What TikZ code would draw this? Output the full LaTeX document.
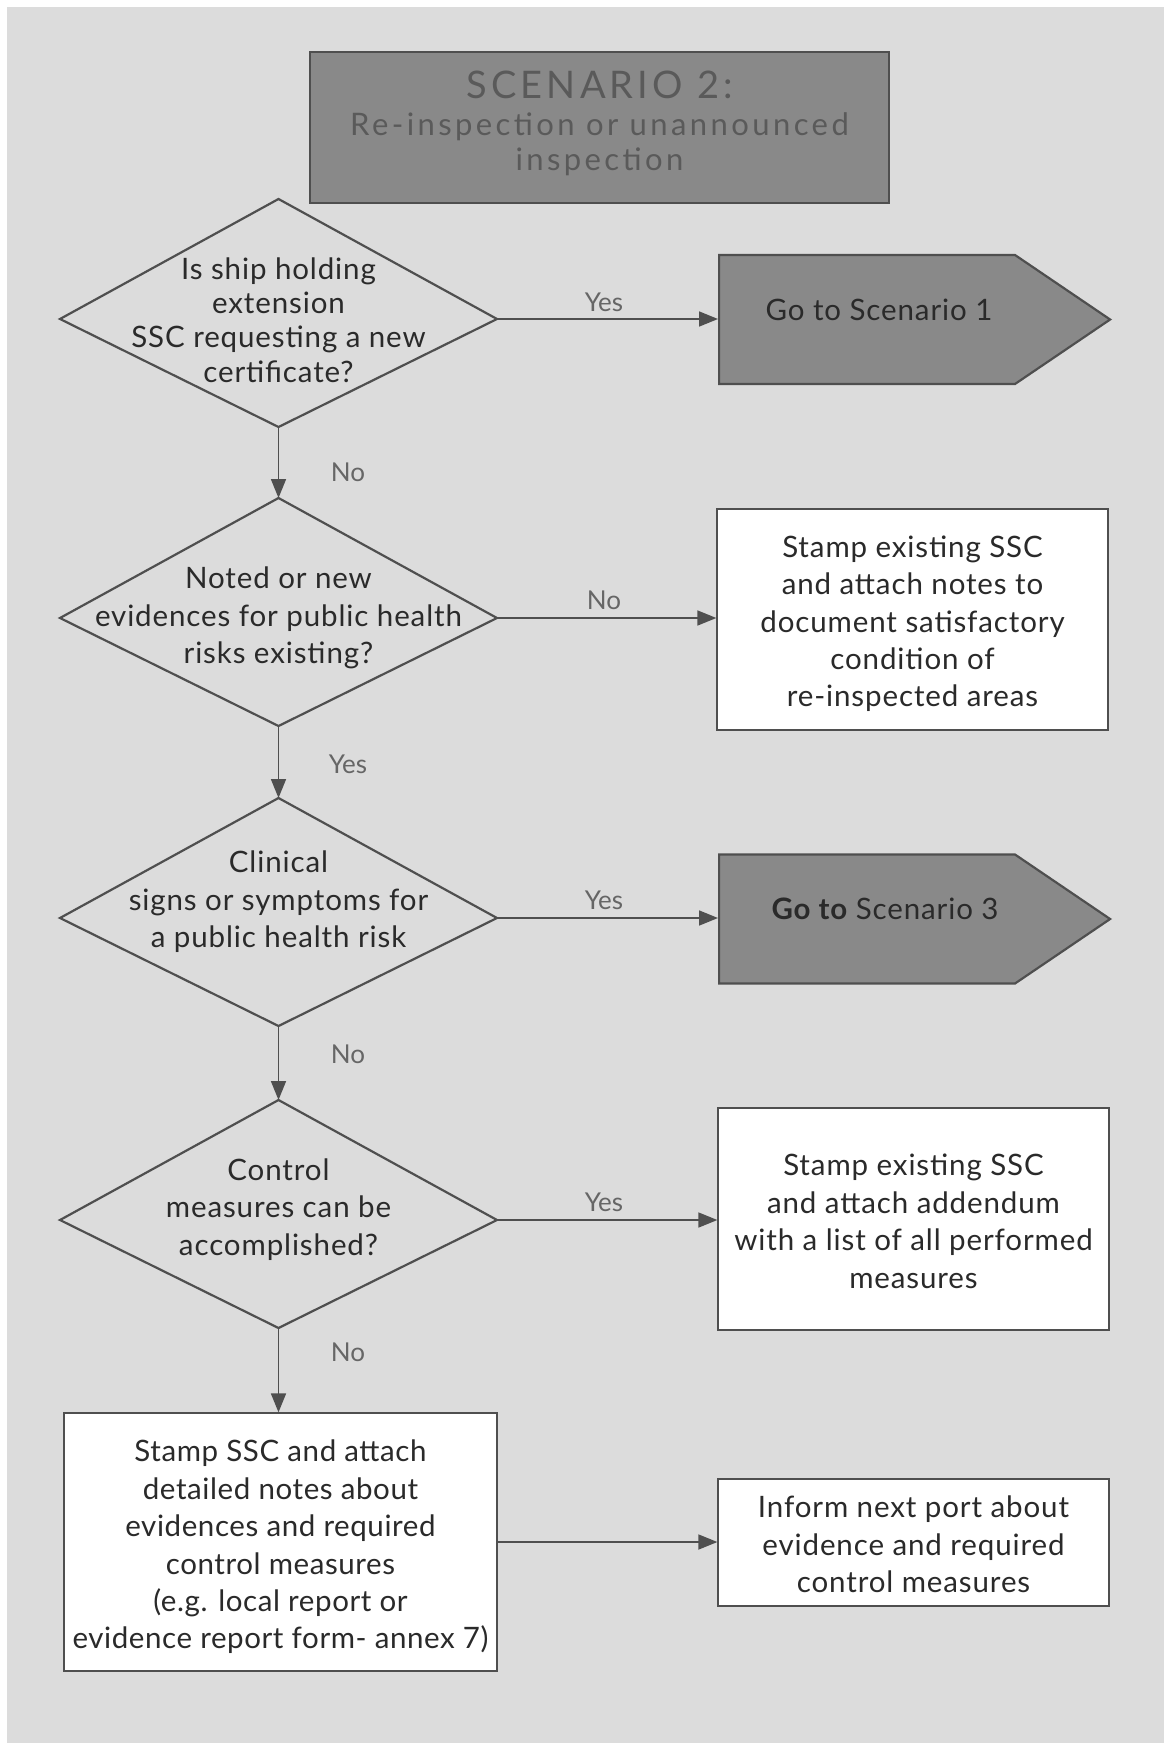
\documentclass[tikz,border=0pt]{standalone}
\usepackage{fontspec}
\setmainfont{Lato}
\newfontfamily\bodyfont{Lato}[LetterSpace=3]
\newfontfamily\bodyfontb{Lato}[LetterSpace=2]
\newfontfamily\titlefont{Lato}[LetterSpace=11]
\newfontfamily\titlefontb{Lato}[LetterSpace=11]
\usetikzlibrary{shapes.geometric,shapes.symbols,arrows.meta}
\definecolor{bgc}{HTML}{DCDCDC}
\definecolor{darkfill}{HTML}{898989}
\definecolor{edgec}{HTML}{4F4F4F}
\definecolor{txtc}{HTML}{2A2A2A}
\definecolor{titletxt}{HTML}{5A5A5A}
\definecolor{labc}{HTML}{666666}
\newcommand{\flowdiamond}[2]{%
  \coordinate (#1-e) at (497,#2);
  \coordinate (#1-w) at (60,#2);
  \coordinate (#1-n) at (278.5,{#2-120});
  \coordinate (#1-s) at (278.5,{#2+108});
  \draw[draw=edgec, line width=2.2pt, line join=miter] (#1-n) -- (#1-e) -- (#1-s) -- (#1-w) -- cycle;
}
\begin{document}
\begin{tikzpicture}[x=1pt,y=-1pt,
  body/.style={text=txtc, align=center, inner sep=0pt, font=\bodyfont\fontsize{29.5}{37.4}\selectfont},
  whitebox/.style={draw=edgec, fill=white, line width=1.3pt, inner sep=0pt},
  goto/.style={shape=signal, signal to=east, signal pointer angle=68.3, draw=edgec, fill=darkfill, line width=2.2pt, minimum width=391pt, minimum height=129pt, inner sep=0pt, anchor=west},
  arr/.style={draw=edgec, line width=1.7pt, -{Triangle[length=19pt,width=15pt]}},
  lab/.style={text=labc, font=\fontsize{26}{30}\selectfont, inner sep=0pt},
  ttl/.style={text=titletxt, inner sep=0pt, anchor=base}
]
\useasboundingbox (0,0) rectangle (1164,1743);
\fill[bgc] (7,7) rectangle (1164,1743);

% title
\node[draw=edgec, fill=darkfill, line width=2.5pt, minimum width=579pt, minimum height=151pt, inner sep=0pt] (title) at (599.5,127.5) {};
\node[ttl, font=\titlefont\fontsize{38}{40}\selectfont] (tt1) at (599.5,98) {SCENARIO 2:};
\node[ttl, font=\titlefontb\fontsize{31}{36}\selectfont] (tt2) at (599.5,135) {Re-inspection or unannounced};
\node[ttl, font=\titlefontb\fontsize{31}{36}\selectfont] (tt3) at (599.5,170) {inspection};

% diamonds
\flowdiamond{d1}{319}
\node[body, font=\bodyfont\fontsize{29.5}{34.4}\selectfont] (d1t) at (278.5,320) {Is ship holding\\extension\\SSC requesting a new\\certificate?};
\flowdiamond{d2}{618}
\node[body] (d2t) at (278.5,618) {Noted or new\\evidences for public health\\risks existing?};
\flowdiamond{d3}{918}
\node[body] (d3t) at (278.5,902) {Clinical\\signs or symptoms for\\a public health risk};
\flowdiamond{d4}{1220}
\node[body] (d4t) at (278.5,1209.5) {Control\\measures can be\\accomplished?};

% right side
\node[goto] (p1) at (718,319.5) {};
\node[body] (p1t) at (879,310) {Go to Scenario 1};
\node[whitebox, minimum width=391pt, minimum height=221pt] (b2) at (912.5,619.5) {};
\node[body] (b2t) at ([yshift=-4.4pt]b2.center) {Stamp existing SSC\\and attach notes to\\document satisfactory\\condition of\\re-inspected areas};
\node[goto] (p2) at (718,919) {};
\node[body] (p2t) at (885,909) {{\bfseries Go to} Scenario 3};
\node[whitebox, minimum width=391pt, minimum height=222pt] (b4) at (913.5,1219) {};
\node[body] (b4t) at ([yshift=-2.2pt]b4.center) {Stamp existing SSC\\and attach addendum\\with a list of all performed\\measures};
\node[whitebox, minimum width=433pt, minimum height=258pt] (b5) at (280.5,1542) {};
\node[body, font=\bodyfontb\fontsize{29.5}{37.4}\selectfont] (b5t) at ([yshift=-5pt]b5.center) {Stamp SSC and attach\\detailed notes about\\evidences and required\\control measures\\(e.g. local report or\\evidence report form- annex 7)};
\node[whitebox, minimum width=391pt, minimum height=127pt] (b6) at (913.5,1542.5) {};
\node[body] (b6t) at ([yshift=-2pt]b6.center) {Inform next port about\\evidence and required\\control measures};

% connectors
\draw[arr] (d1-e) -- (d1-e -| p1.west);
\draw[arr] (d2-e) -- (d2-e -| b2.west);
\draw[arr] (d3-e) -- (d3-e -| p2.west);
\draw[arr] (d4-e) -- (d4-e -| b4.west);
\draw[arr] (d1-s) -- (d2-n);
\draw[arr] (d2-s) -- (d3-n);
\draw[arr] (d3-s) -- (d4-n);
\draw[arr] (d4-s) -- (d4-s |- b5.north);
\draw[arr] (b5.east) -- (b5.east -| b6.west);

% labels
\node[lab] (l1) at (604,302) {Yes};
\node[lab] (l2) at (604,600) {No};
\node[lab] (l3) at (604,900) {Yes};
\node[lab] (l4) at (604,1202) {Yes};
\node[lab] (l5) at (348,472) {No};
\node[lab] (l6) at (348,764) {Yes};
\node[lab] (l7) at (348,1054) {No};
\node[lab] (l8) at (348,1352) {No};
\end{tikzpicture}
\end{document}
